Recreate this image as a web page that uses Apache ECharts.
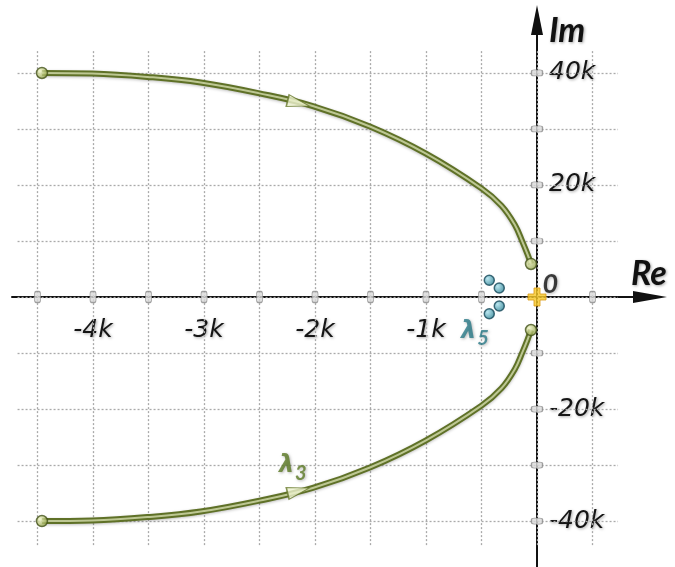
<!DOCTYPE html>
<html>
<head>
<meta charset="utf-8">
<script src="https://cdn.jsdelivr.net/npm/echarts@6/dist/echarts.min.js"></script>
<style>
  html, body { margin: 0; padding: 0; background: #fff; }
  #chart { width: 675px; height: 567px; }
</style>
</head>
<body>
<div id="chart"></div>
<script>
// values in thousands (k)
var reBranch = [-4.46, -4.01, -3.51, -3.03, -2.51, -2.02, -1.50, -1.00, -0.50, -0.32, -0.20, -0.13, -0.085, -0.054];
var imUpper  = [40, 39.9, 39.3, 38.3, 36.4, 34.1, 30.4, 25.6, 19.4, 16.3, 12.9, 9.8, 7.6, 5.9];
var imLower  = [-40, -39.9, -39.3, -38.3, -36.4, -34.1, -30.4, -25.6, -19.4, -16.3, -12.9, -9.8, -7.6, -5.9];

var lambda5Re = [-0.43, -0.34, -0.34, -0.43];
var lambda5Im = [3.0, 1.6, -1.6, -3.0];

var arrowRe = [-2.15, -2.15];
var arrowIm = [34.6, -34.6];

var xTicks = [-4.5, -4, -3.5, -3, -2.5, -2, -1.5, -1, -0.5, 0, 0.5];
var yTicks = [-40, -30, -20, -10, 0, 10, 20, 30, 40];
var xLabels = [-4, -3, -2, -1];
var yLabels = [-40, -20, 20, 40];

var lambda3Pos = [-2.2, -30.2];
var lambda5Pos = [-0.56, -6.2];

// extent of the dotted grid
var gridX = [-4.68, 0.73];
var gridY = [-44.3, 44.1];

var gridLines = [];
xTicks.forEach(function (x) { gridLines.push({ coords: [[x, gridY[0]], [x, gridY[1]]] }); });
yTicks.forEach(function (y) { gridLines.push({ coords: [[gridX[0], y], [gridX[1], y]] }); });

function zip(a, b) { return a.map(function (v, i) { return [v, b[i]]; }); }

var shadow = {
  textShadowColor: 'rgba(0,0,0,0.35)', textShadowBlur: 3, textShadowOffsetX: 1, textShadowOffsetY: 1
};
var labelFont = Object.assign({
  fontFamily: 'DejaVu Sans', fontStyle: 'italic', fontSize: 25, color: '#151515'
}, shadow);
var nameFont = Object.assign({
  fontFamily: 'Lato', fontStyle: 'italic', fontWeight: 'bold', fontSize: 34, color: '#111'
}, shadow);

var tubeOuter = { color: '#5f7127', width: 6, shadowColor: 'rgba(0,0,0,0.25)', shadowBlur: 3, shadowOffsetY: 1 };
var tubeInner = { color: '#e6edc2', width: 2, opacity: 0.7 };

var endBall = {
  color: { type: 'radial', x: 0.35, y: 0.35, r: 0.7,
    colorStops: [{ offset: 0, color: '#f1f6c8' }, { offset: 1, color: '#87993a' }] },
  borderColor: '#43521a', borderWidth: 1.5
};

var tealBall = {
  color: { type: 'radial', x: 0.35, y: 0.35, r: 0.7,
    colorStops: [{ offset: 0, color: '#a9e0ec' }, { offset: 1, color: '#217a8d' }] },
  borderColor: '#16485a', borderWidth: 1.5
};

var plusPath = 'path://M4,0 L8,0 L8,4 L12,4 L12,8 L8,8 L8,12 L4,12 L4,8 L0,8 L0,4 L4,4 Z';

var chart = echarts.init(document.getElementById('chart'));
chart.setOption({
  animation: false,
  backgroundColor: '#fff',
  grid: { left: 12, right: 25, top: 20, bottom: 0, containLabel: false, outerBoundsMode: 'none' },
  xAxis: {
    type: 'value',
    position: 'bottom',
    offset: -270,
    min: -4.73,
    max: 1.018,
    name: 'Re',
    nameLocation: 'end',
    nameGap: -19,
    nameTextStyle: Object.assign({ align: 'left', verticalAlign: 'bottom', padding: [0, 0, 6, 0] }, nameFont),
    axisLine: {
      onZero: false,
      symbol: ['none', 'triangle'],
      symbolSize: [12, 34],
      lineStyle: { color: '#111', width: 2 }
    },
    axisTick: { show: false },
    splitLine: { show: false },
    axisLabel: Object.assign({
      customValues: xLabels,
      margin: 21,
      formatter: function (v) { return v + 'k'; }
    }, labelFont)
  },
  yAxis: {
    type: 'value',
    position: 'left',
    offset: -525,
    min: -48.21,
    max: 49.46,
    name: 'Im',
    nameLocation: 'end',
    nameGap: -11,
    nameTextStyle: Object.assign({ align: 'left', verticalAlign: 'middle', padding: [0, 0, 0, 12] }, nameFont),
    axisLine: {
      onZero: false,
      symbol: ['none', 'triangle'],
      symbolSize: [12, 30],
      lineStyle: { color: '#111', width: 2 }
    },
    axisTick: { show: false },
    splitLine: { show: false },
    axisLabel: Object.assign({
      customValues: yLabels,
      inside: true,
      margin: 12,
      fontSize: 26,
      formatter: function (v) { return v + 'k'; }
    }, labelFont)
  },
  series: [
    {
      type: 'lines',
      coordinateSystem: 'cartesian2d',
      silent: true,
      z: 1,
      lineStyle: { color: '#aaaaaa', width: 1.3, type: [2, 2], opacity: 1 },
      data: gridLines
    },
    {
      type: 'scatter',
      silent: true,
      z: 3,
      symbol: 'roundRect',
      symbolSize: [6, 11],
      itemStyle: { color: '#d9d9d9', borderColor: '#8a8a8a', borderWidth: 1 },
      data: xTicks.filter(function (v) { return v !== 0; }).map(function (v) { return [v, 0]; })
    },
    {
      type: 'scatter',
      silent: true,
      z: 3,
      symbol: 'roundRect',
      symbolSize: [11, 6],
      itemStyle: { color: '#d9d9d9', borderColor: '#8a8a8a', borderWidth: 1 },
      data: yTicks.filter(function (v) { return v !== 0; }).map(function (v) { return [0, v]; })
    },
    {
      type: 'line', smooth: 0.4, showSymbol: false, silent: true, z: 4,
      lineStyle: tubeOuter, data: zip(reBranch, imUpper)
    },
    {
      type: 'line', smooth: 0.4, showSymbol: false, silent: true, z: 5,
      lineStyle: tubeInner, data: zip(reBranch, imUpper)
    },
    {
      type: 'line', smooth: 0.4, showSymbol: false, silent: true, z: 4,
      lineStyle: tubeOuter, data: zip(reBranch, imLower)
    },
    {
      type: 'line', smooth: 0.4, showSymbol: false, silent: true, z: 5,
      lineStyle: tubeInner, data: zip(reBranch, imLower)
    },
    {
      type: 'scatter', silent: true, z: 6,
      symbol: 'triangle', symbolSize: [12, 22],
      itemStyle: { color: '#eef2d0', borderColor: '#67782c', borderWidth: 1.2 },
      data: [
        { value: [arrowRe[0], arrowIm[0]], symbolRotate: -104 },
        { value: [arrowRe[1], arrowIm[1]], symbolRotate: -76 }
      ]
    },
    {
      type: 'scatter', silent: true, z: 7,
      symbol: 'circle', symbolSize: 11,
      itemStyle: endBall,
      data: [
        [reBranch[0], imUpper[0]],
        [reBranch[reBranch.length - 1], imUpper[imUpper.length - 1]],
        [reBranch[0], imLower[0]],
        [reBranch[reBranch.length - 1], imLower[imLower.length - 1]]
      ]
    },
    {
      type: 'scatter', silent: true, z: 7,
      symbol: 'circle', symbolSize: 10,
      itemStyle: tealBall,
      data: zip(lambda5Re, lambda5Im)
    },
    {
      type: 'scatter', silent: true, z: 8,
      symbol: plusPath, symbolSize: 18,
      itemStyle: { color: '#f7c825', borderColor: '#d99a12', borderWidth: 1 },
      label: Object.assign({
        show: true, position: 'right', distance: 0, offset: [-4, -13],
        formatter: '0',
        fontFamily: 'Lato', fontStyle: 'italic', fontWeight: 'bold', fontSize: 27, color: '#111'
      }, shadow),
      data: [[0, 0]]
    },
    {
      type: 'scatter', silent: true, z: 8,
      symbolSize: 0,
      label: {
        show: true, position: 'inside',
        formatter: function (p) { return '{l|λ}{s|' + p.name + '}'; },
        rich: {
          l: Object.assign({ fontFamily: 'DejaVu Sans', fontStyle: 'italic', fontWeight: 'bold', fontSize: 24 }, shadow),
          s: Object.assign({ fontFamily: 'Lato', fontStyle: 'italic', fontWeight: 'bold', fontSize: 20, padding: [14, 0, 0, 1] }, shadow)
        }
      },
      data: [
        { name: '3', value: lambda3Pos, label: { rich: { l: { color: '#5c7b26' }, s: { color: '#5c7b26' } } } },
        { name: '5', value: lambda5Pos, label: { rich: { l: { color: '#2a7a88' }, s: { color: '#2a7a88' } } } }
      ]
    }
  ]
});
</script>
</body>
</html>
